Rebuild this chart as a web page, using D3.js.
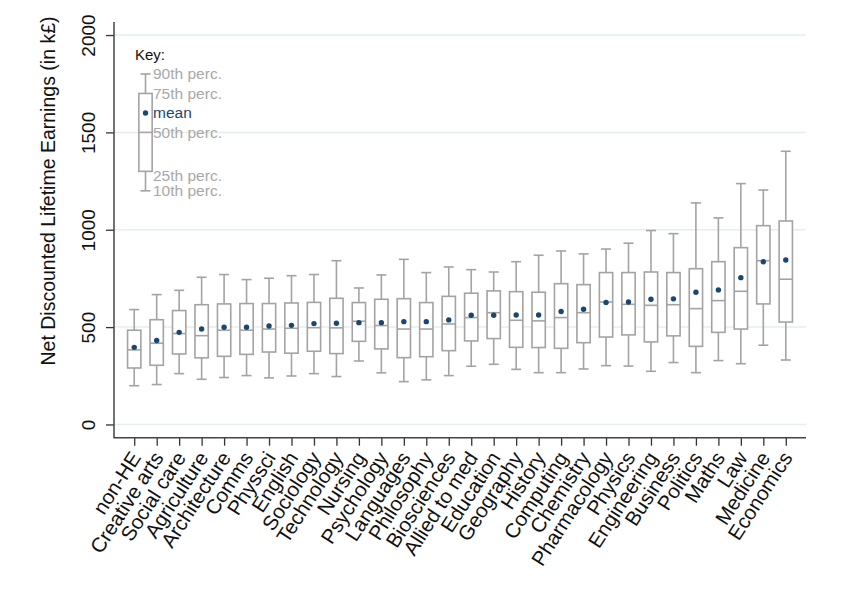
<!DOCTYPE html>
<html>
<head>
<meta charset="utf-8">
<script src="https://d3js.org/d3.v7.min.js"></script>
<style>
  body { margin: 0; background: #fff; }
  text { font-family: "Liberation Sans", Arial, sans-serif; }
</style>
</head>
<body>
<div id="chart"></div>
<script>
// subjects in plot order
var subjects = ["non-HE", "Creative arts", "Social care", "Agriculture", "Architecture",
    "Comms", "Physsci", "English", "Sociology", "Technology", "Nursing", "Psychology",
    "Languages", "Philosophy", "Biosciences", "Allied to med", "Education", "Geography",
    "History", "Computing", "Chemistry", "Pharmacology", "Physics", "Engineering",
    "Business", "Politics", "Maths", "Law", "Medicine", "Economics"];

// percentiles and means (k£)
var p10 = [199, 205, 261, 232, 241, 251, 239, 249, 261, 246, 326, 265, 220, 229, 251,
    299, 309, 283, 266, 266, 285, 302, 300, 273, 318, 266, 328, 312, 407, 331];
var p25 = [290, 304, 362, 342, 350, 360, 372, 366, 376, 364, 427, 388, 343, 348, 379,
    429, 441, 396, 395, 391, 420, 449, 460, 424, 455, 401, 473, 490, 619, 526];
var p50 = [383, 417, 467, 456, 484, 484, 490, 494, 497, 496, 530, 508, 490, 490, 516,
    549, 574, 535, 532, 549, 574, 629, 617, 612, 615, 595, 636, 684, 841, 746];
var p75 = [484, 538, 585, 615, 619, 621, 621, 624, 627, 648, 626, 643, 646, 626, 658,
    674, 686, 682, 679, 723, 718, 780, 780, 783, 780, 800, 836, 908, 1021, 1045];
var p90 = [590, 667, 689, 756, 770, 744, 751, 764, 770, 841, 701, 768, 848, 780, 809,
    795, 783, 836, 869, 891, 876, 901, 931, 996, 980, 1138, 1061, 1237, 1204, 1403];
var means = [396, 431, 473, 490, 499, 499, 506, 509, 518, 520, 523, 523, 528, 528, 537,
    561, 561, 562, 562, 580, 592, 627, 629, 643, 645, 679, 691, 754, 836, 845];

var yTicks = [0, 500, 1000, 1500, 2000];

// key box
var keyLabels = ["10th perc.", "25th perc.", "50th perc.", "mean", "75th perc.", "90th perc."];
var keyValues = [1200, 1300, 1500, 1600, 1700, 1800];

function init() {
    var w = 848;
    var h = 601;
    var left = 114, right = 806, top = 22, bottom = 437.7;

    var boxColor = "#a3a3a3";
    var meanColor = "#1a476f";

    var svg = d3.select("#chart")
                .append("svg")
                .attr("width", w)
                .attr("height", h);

    var x = d3.scalePoint()
                .domain(subjects)
                .range([left, right])
                .padding(0.9);

    var y = d3.scaleLinear()
                .domain([-68, 2067])
                .range([bottom, top]);

    //gridlines
    svg.append("g")
        .selectAll("line")
        .data(yTicks)
        .enter()
        .append("line")
        .attr("x1", left)
        .attr("x2", right)
        .attr("y1", function(d) { return y(d); })
        .attr("y2", function(d) { return y(d); })
        .style("stroke", "#e4eeee")
        .style("stroke-width", 1.5);

    //y axis
    var yAxis = svg.append("g")
        .attr("transform", "translate(" + left + ",0)")
        .call(d3.axisLeft(y).tickValues(yTicks).tickSize(8).tickFormat(d3.format("d")));
    yAxis.select(".domain").remove();
    yAxis.selectAll(".tick line").style("stroke", "#333").style("stroke-width", 1.3);
    yAxis.selectAll(".tick text")
        .attr("x", null)
        .attr("dy", null)
        .attr("transform", "translate(-19,0) rotate(-90)")
        .attr("text-anchor", "middle")
        .style("font-size", "19px")
        .style("fill", "#111");

    //x axis
    var xAxis = svg.append("g")
        .attr("transform", "translate(0," + bottom + ")")
        .call(d3.axisBottom(x).tickSize(8));
    xAxis.select(".domain").remove();
    xAxis.selectAll(".tick line").style("stroke", "#333").style("stroke-width", 1.3);
    xAxis.selectAll(".tick text")
        .attr("y", null)
        .attr("dy", "0.35em")
        .attr("transform", "translate(1,16) rotate(-57)")
        .attr("text-anchor", "end")
        .style("font-size", "20.5px")
        .style("fill", "#111");

    //axis lines
    svg.append("path")
        .attr("d", "M" + left + "," + top + "V" + bottom + "H" + right)
        .style("fill", "none")
        .style("stroke", "#444")
        .style("stroke-width", 1.5);

    //box plots
    var rows = subjects.map(function(s, i) {
        return { name: s, lo: p10[i], q1: p25[i], med: p50[i], q3: p75[i], hi: p90[i], mean: means[i] };
    });

    var boxW = 13.3, capW = 10;

    var boxes = svg.append("g")
        .selectAll("g")
        .data(rows)
        .enter()
        .append("g")
        .attr("transform", function(d) { return "translate(" + x(d.name) + ",0)"; })
        .style("stroke", boxColor)
        .style("stroke-width", 1.6)
        .style("fill", "none");

    drawBox(boxes, y, boxW, capW);

    boxes.append("circle")
        .attr("cy", function(d) { return y(d.mean); })
        .attr("r", 2.7)
        .style("stroke", "none")
        .style("fill", meanColor);

    //key
    var keyX = 145.5;
    svg.append("text")
        .attr("x", 135)
        .attr("y", 60)
        .style("font-size", "15px")
        .style("fill", "#111")
        .text("Key:");

    var keyRow = { lo: keyValues[0], q1: keyValues[1], med: keyValues[2], mean: keyValues[3], q3: keyValues[4], hi: keyValues[5] };
    var key = svg.append("g")
        .selectAll("g")
        .data([keyRow])
        .enter()
        .append("g")
        .attr("transform", "translate(" + keyX + ",0)")
        .style("stroke", boxColor)
        .style("stroke-width", 1.6)
        .style("fill", "none");

    drawBox(key, y, boxW, capW);

    key.append("circle")
        .attr("cy", function(d) { return y(d.mean); })
        .attr("r", 2.7)
        .style("stroke", "none")
        .style("fill", meanColor);

    svg.append("g")
        .selectAll("text")
        .data(keyLabels)
        .enter()
        .append("text")
        .attr("x", keyX + 7.5)
        .attr("y", function(d, i) {
            // 25th label sits a little lower in the original
            return y(keyValues[i]) + (i === 1 ? 9.5 : 5.5);
        })
        .style("font-size", "15.5px")
        .style("fill", function(d) { return d === "mean" ? meanColor : "#a8a8a8"; })
        .text(function(d) { return d; });

    //y title
    svg.append("text")
        .attr("transform", "translate(55,191) rotate(-90)")
        .attr("text-anchor", "middle")
        .style("font-size", "19.5px")
        .style("fill", "#111")
        .text("Net Discounted Lifetime Earnings (in k\u00a3)");
}

function drawBox(sel, y, boxW, capW) {
    //whiskers
    sel.append("line")
        .attr("y1", function(d) { return y(d.hi); })
        .attr("y2", function(d) { return y(d.q3); });
    sel.append("line")
        .attr("y1", function(d) { return y(d.q1); })
        .attr("y2", function(d) { return y(d.lo); });
    //caps
    sel.append("line")
        .attr("x1", -capW / 2).attr("x2", capW / 2)
        .attr("y1", function(d) { return y(d.hi); })
        .attr("y2", function(d) { return y(d.hi); });
    sel.append("line")
        .attr("x1", -capW / 2).attr("x2", capW / 2)
        .attr("y1", function(d) { return y(d.lo); })
        .attr("y2", function(d) { return y(d.lo); });
    //box
    sel.append("rect")
        .attr("x", -boxW / 2)
        .attr("width", boxW)
        .attr("y", function(d) { return y(d.q3); })
        .attr("height", function(d) { return y(d.q1) - y(d.q3); })
        .style("fill", "#fff");
    //median
    sel.append("line")
        .attr("x1", -boxW / 2).attr("x2", boxW / 2)
        .attr("y1", function(d) { return y(d.med); })
        .attr("y2", function(d) { return y(d.med); });
}

window.onload = init;
</script>
</body>
</html>
